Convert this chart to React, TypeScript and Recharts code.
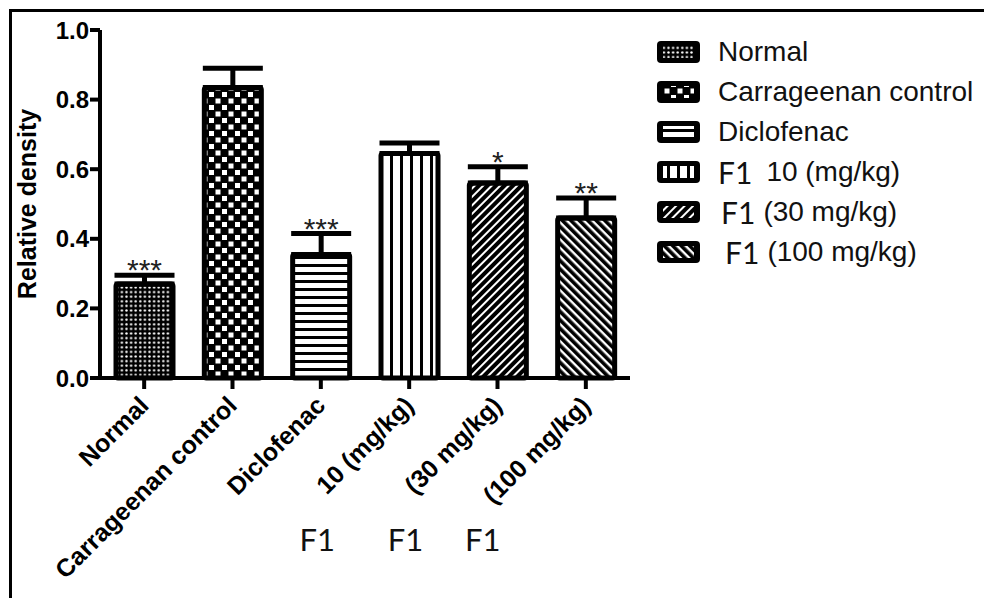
import { BarChart, Bar, XAxis, YAxis, Cell, ErrorBar, LabelList } from 'recharts';

const categories = ['Normal', 'Carrageenan control', 'Diclofenac', '10 (mg/kg)', '(30 mg/kg)', '(100 mg/kg)'];
const means = [0.27, 0.835, 0.355, 0.645, 0.56, 0.46];
const sems = [0.025, 0.055, 0.06, 0.03, 0.047, 0.057];
const marks = ['***', '', '***', '', '*', '**'];
const legendPrefix = ['', '', '', 'F1', 'F1', 'F1'];
const legendNames = ['Normal', 'Carrageenan control', 'Diclofenac', '10 (mg/kg)', '(30 mg/kg)', '(100 mg/kg)'];
const groupLabelCats = ['10 (mg/kg)', '(30 mg/kg)', '(100 mg/kg)'];
const groupLabel = 'F1';
const yTicks = [0, 0.2, 0.4, 0.6, 0.8, 1.0];

const data = categories.map((name, i) => ({
  name,
  value: means[i],
  err: [0, sems[i]],
  mark: marks[i],
}));

const PATTERNS = ['pDots', 'pChecker', 'pHoriz', 'pVert', 'pDiagUp', 'pDiagDown'];
const FONT = '"Liberation Sans", Arial, sans-serif';
// F1 group labels sit left of their rotated tick labels
const groupShift = [-92, -92, -103];

const Patterns = () => (
  <defs>
    <pattern id="pDots" width="4.6" height="4.6" patternUnits="userSpaceOnUse">
      <rect width="4.6" height="4.6" fill="#000" />
      <circle cx="2.3" cy="2.3" r="1.2" fill="#fff" />
    </pattern>
    <pattern id="pChecker" width="13" height="13" patternUnits="userSpaceOnUse">
      <rect width="13" height="13" fill="#000" />
      <rect x="1" y="1" width="5" height="5" fill="#fff" />
      <rect x="7.5" y="7.5" width="5" height="5" fill="#fff" />
    </pattern>
    <pattern id="pHoriz" width="8" height="8" patternUnits="userSpaceOnUse">
      <rect width="8" height="8" fill="#fff" />
      <rect y="0" width="8" height="3" fill="#000" />
    </pattern>
    <pattern id="pVert" width="10" height="10" patternUnits="userSpaceOnUse">
      <rect width="10" height="10" fill="#fff" />
      <rect x="0" width="3" height="10" fill="#000" />
    </pattern>
    <pattern id="pDiagUp" width="6" height="6" patternUnits="userSpaceOnUse" patternTransform="rotate(45)">
      <rect width="6" height="6" fill="#fff" />
      <rect x="0" width="4" height="6" fill="#000" />
    </pattern>
    <pattern id="pDiagDown" width="6" height="6" patternUnits="userSpaceOnUse" patternTransform="rotate(-45)">
      <rect width="6" height="6" fill="#fff" />
      <rect x="0" width="3.6" height="6" fill="#000" />
    </pattern>
  </defs>
);

const CategoryTick = (props: any) => {
  const { x, y, payload } = props;
  const gi = groupLabelCats.indexOf(payload.value);
  const ax = x + 6;
  const ay = y + 16;
  return (
    <g>
      <text
        x={ax}
        y={ay}
        transform={`rotate(-45, ${ax}, ${ay})`}
        textAnchor="end"
        fontFamily={FONT}
        fontWeight="bold"
        fontSize={25}
        fill="#000"
      >
        {payload.value}
      </text>
      {gi >= 0 && (
        <text x={x + groupShift[gi]} y={y + 160} textAnchor="middle" fontFamily="Lato, sans-serif" fontSize={31} fill="#111">
          {groupLabel}
        </text>
      )}
    </g>
  );
};

const MarkLabel = (props: any) => {
  const { x, y, width, height, index, value } = props;
  if (!value) return null;
  const perUnit = height / means[index];
  const capY = y - sems[index] * perUnit;
  return (
    <text x={x + width / 2} y={capY + 5} textAnchor="middle" fontFamily={FONT} fontSize={30} fill="#222">
      {value}
    </text>
  );
};

const LegendBox = () => (
  <div style={{ position: 'absolute', left: 657, top: 32, fontFamily: FONT, fontSize: 28, color: '#111' }}>
    {legendNames.map((name, i) => (
      <div key={name} style={{ display: 'flex', alignItems: 'center', height: 40 }}>
        <svg width={43} height={22} style={{ marginRight: 18, flexShrink: 0 }}>
          <rect x={0} y={0} width={43} height={22} rx={4} fill="#000" />
          <rect x={6} y={5} width={31} height={12} fill={`url(#${PATTERNS[i]})`} />
        </svg>
        {legendPrefix[i] && (
          <span
            style={{
              fontFamily: 'Lato, sans-serif',
              fontSize: 30,
              marginLeft: i > 3 ? 3 + (i - 4) * 4 : 0,
              marginRight: i === 3 ? 14 : 8,
            }}
          >
            {legendPrefix[i]}
          </span>
        )}
        <span style={{ whiteSpace: 'pre' }}>{name}</span>
      </div>
    ))}
  </div>
);

export default function App() {
  return (
    <div style={{ position: 'fixed', left: 0, top: 0, width: 984, height: 598, background: '#fff', overflow: 'hidden' }}>
      <div
        style={{
          position: 'absolute',
          left: 9,
          top: 9,
          right: 0,
          bottom: 0,
          borderTop: '3px solid #000',
          borderLeft: '3px solid #000',
        }}
      />
      <BarChart
        width={984}
        height={598}
        data={data}
        margin={{ top: 30, right: 354, bottom: 190, left: 0 }}
        style={{ position: 'absolute', left: 0, top: 0 }}
      >
        <Patterns />
        <XAxis
          dataKey="name"
          interval={0}
          tick={<CategoryTick />}
          axisLine={{ stroke: '#000', strokeWidth: 4 }}
          tickLine={{ stroke: '#000', strokeWidth: 4 }}
          tickSize={11}
        />
        <YAxis
          width={100}
          domain={[0, 1]}
          ticks={yTicks}
          tickFormatter={(v: number) => v.toFixed(1)}
          tick={{ fontFamily: FONT, fontWeight: 'bold', fontSize: 24, fill: '#000' }}
          axisLine={{ stroke: '#000', strokeWidth: 4 }}
          tickLine={{ stroke: '#000', strokeWidth: 4 }}
          tickSize={10}
          tickMargin={1}
          label={{
            value: 'Relative density',
            angle: -90,
            position: 'insideLeft',
            dx: 22,
            style: { fontFamily: FONT, fontWeight: 'bold', fontSize: 25, fill: '#000', textAnchor: 'middle' },
          }}
        />
        <Bar dataKey="value" barSize={57} stroke="#000" strokeWidth={5} radius={2} isAnimationActive={false}>
          {data.map((d, i) => (
            <Cell key={d.name} fill={`url(#${PATTERNS[i]})`} />
          ))}
          <ErrorBar dataKey="err" direction="y" width={30} stroke="#000" strokeWidth={5} />
          <LabelList dataKey="mark" content={<MarkLabel />} />
        </Bar>
      </BarChart>
      <LegendBox />
    </div>
  );
}
